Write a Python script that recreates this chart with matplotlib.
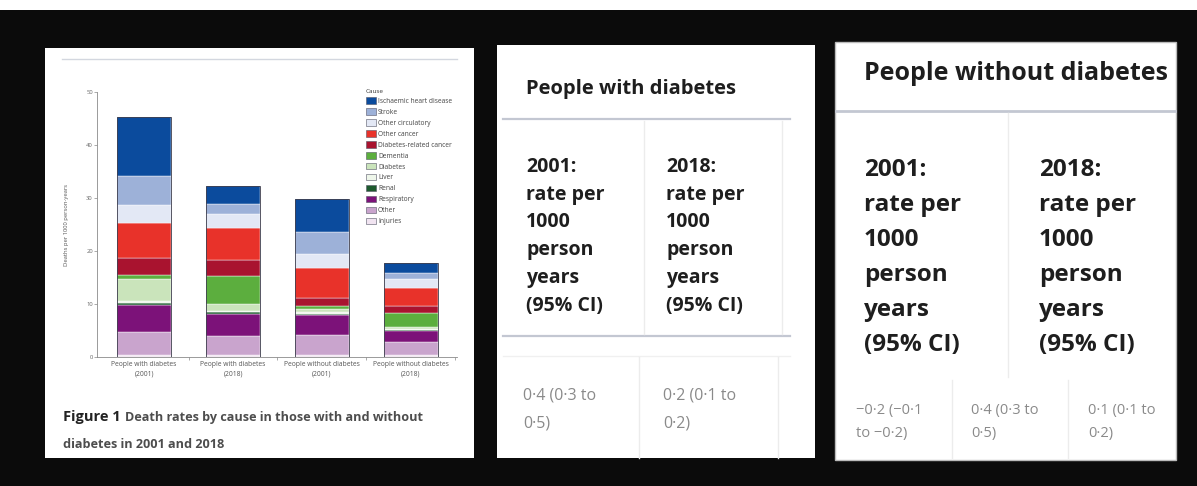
import numpy as np
import matplotlib
matplotlib.use('Agg')
import matplotlib.pyplot as plt
from matplotlib.patches import Rectangle, Patch

plt.rcParams['font.family'] = ['Open Sans', 'DejaVu Sans']

# ---- chart data (deaths per 1000 person-years), stacked bottom -> top
groups = ['People with diabetes\n(2001)', 'People with diabetes\n(2018)',
          'People without diabetes\n(2001)', 'People without diabetes\n(2018)']
causes = ['Injuries', 'Other', 'Respiratory', 'Renal', 'Liver', 'Diabetes', 'Dementia',
          'Diabetes-related cancer', 'Other cancer', 'Other circulatory', 'Stroke',
          'Ischaemic heart disease']
injuries      = [0.3, 0.3, 0.3, 0.3]
other         = [4.4, 3.7, 3.8, 2.5]
respiratory   = [5.2, 4.2, 3.9, 2.2]
renal         = [0.2, 0.2, 0.1, 0.1]
liver         = [0.4, 0.3, 0.3, 0.2]
diabetes      = [4.3, 1.3, 0.7, 0.3]
dementia      = [0.6, 5.3, 0.5, 2.7]
diab_cancer   = [3.2, 3.0, 1.6, 1.3]
other_cancer  = [6.7, 6.1, 5.6, 3.5]
other_circ    = [3.4, 2.6, 2.7, 1.7]
stroke        = [5.5, 1.9, 4.0, 1.0]
ihd           = [11.1, 3.4, 6.4, 1.9]
cause_colors = ['#f1e4f1', '#c9a4cd', '#7c1279', '#1d5a2e', '#eef6ea', '#cae4bb',
                '#5cae3e', '#a9132f', '#e8322a', '#e3e8f5', '#9db1d8', '#0b4b9d']

# ---- table data
mid_title = 'People with diabetes'
right_title = 'People without diabetes'
col_years = ['2001:', '2018:']
col_lines = ['rate per', '1000', 'person', 'years', '(95% CI)']
mid_values = [['0·4 (0·3 to', '0·5)'], ['0·2 (0·1 to', '0·2)']]
right_values = [['−0·2 (−0·1', 'to −0·2)'], ['0·4 (0·3 to', '0·5)'], ['0·1 (0·1 to', '0·2)']]

W, H = 1197, 486
fig = plt.figure(figsize=(W / 100, H / 100), dpi=100, facecolor='#0b0b0b')
bg = fig.add_axes([0, 0, 1, 1])
bg.set_xlim(0, W)
bg.set_ylim(H, 0)
bg.axis('off')

# page layout
bg.add_patch(Rectangle((0, 0), W, 10, color='white', lw=0))
bg.add_patch(Rectangle((45, 48), 429, 410, color='white', lw=0))
bg.add_patch(Rectangle((497, 45), 318, 413, color='white', lw=0))
bg.add_patch(Rectangle((835, 42), 341, 418, facecolor='white', edgecolor='#bbbbbb', lw=1))
bg.plot([62, 457], [59, 59], color='#d3d7df', lw=1)

# caption
bg.text(63, 417, 'Figure 1', fontsize=10.5, fontweight='bold', color='#222222', va='center')
bg.text(125, 417, 'Death rates by cause in those with and without', fontsize=9.1,
        fontweight='bold', color='#4d4d4d', va='center')
bg.text(63, 444, 'diabetes in 2001 and 2018', fontsize=9.1, fontweight='bold',
        color='#4d4d4d', va='center')

# middle table
bg.text(526, 89, mid_title, fontsize=14.5, fontweight='bold', color='#1e1e1e', va='center')
bg.plot([503, 790], [119, 119], color='#c3c7d2', lw=1.6)
bg.plot([503, 790], [336, 336], color='#c3c7d2', lw=1.6)
bg.plot([503, 790], [356, 356], color='#f0f0f0', lw=1)
for xv in [644, 782]:
    bg.plot([xv, xv], [121, 334], color='#ececec', lw=1)
for xv in [639, 778]:
    bg.plot([xv, xv], [357, 458], color='#ececec', lw=1)
for xc, yr in zip([526, 666], col_years):
    for k, s in enumerate([yr] + col_lines):
        bg.text(xc, 167 + 27.7 * k, s, fontsize=14, fontweight='bold', color='#1e1e1e', va='center')
for xc, vals in zip([523, 663], mid_values):
    for k, s in enumerate(vals):
        bg.text(xc, 395 + 28 * k, s, fontsize=11.5, color='#8a8a8a', va='center')

# right table
bg.text(864, 74, right_title, fontsize=18, fontweight='bold', color='#1e1e1e', va='center')
bg.plot([836, 1175], [111, 111], color='#c3c7d2', lw=2)
bg.plot([1008, 1008], [113, 377], color='#ececec', lw=1)
for xv in [952, 1068]:
    bg.plot([xv, xv], [380, 458], color='#ececec', lw=1)
for xc, yr in zip([864, 1039], col_years):
    for k, s in enumerate([yr] + col_lines):
        bg.text(xc, 170 + 35 * k, s, fontsize=17.5, fontweight='bold', color='#1e1e1e', va='center')
for xc, vals in zip([856, 971, 1088], right_values):
    for k, s in enumerate(vals):
        bg.text(xc, 410 + 23 * k, s, fontsize=10.5, color='#8a8a8a', va='center')

# ---- stacked bar chart
ax = fig.add_axes([97 / W, 1 - 357 / H, 360 / W, 265 / H])
ax.set_facecolor('none')
series = [injuries, other, respiratory, renal, liver, diabetes, dementia,
          diab_cancer, other_cancer, other_circ, stroke, ihd]
x = np.arange(len(groups))
bottom = np.zeros(len(groups))
for name, vals, col in zip(causes, series, cause_colors):
    ax.bar(x, vals, 0.61, bottom=bottom, color=col, edgecolor='white', linewidth=0.3, label=name)
    bottom += np.array(vals)
ax.bar(x, bottom, 0.61, fill=False, edgecolor='#3a3a4a', linewidth=0.6)

ax.set_xlim(-0.53, 3.52)
ax.set_ylim(0, 50)
ax.set_yticks([0, 10, 20, 30, 40, 50])
ax.set_xticks(x)
ax.set_xticklabels(groups, fontsize=4.9, color='#555555', linespacing=1.4)
ax.set_xticks([0.5, 1.5, 2.5, 3.5], minor=True)
ax.tick_params(axis='x', which='major', length=0, pad=3)
ax.tick_params(axis='x', which='minor', length=2, width=0.5, color='#888888')
ax.tick_params(axis='y', labelsize=4.2, labelcolor='#666666', length=2, width=0.5,
               color='#888888', pad=1)
ax.set_ylabel('Deaths per 1000 person-years', fontsize=4.2, color='#555555', labelpad=12)
for sp in ['top', 'right']:
    ax.spines[sp].set_visible(False)
for sp in ['left', 'bottom']:
    ax.spines[sp].set_color('#8a8a8a')
    ax.spines[sp].set_linewidth(0.6)

handles = [Patch(facecolor=c, edgecolor='#555566', linewidth=0.4, label=n)
           for n, c in zip(causes[::-1], cause_colors[::-1])]
leg = ax.legend(handles=handles, title='Cause', loc='upper left',
                bbox_to_anchor=(366 / W, 1 - 89 / H), bbox_transform=fig.transFigure,
                frameon=False, fontsize=4.8, title_fontsize=4.6, handlelength=1.5,
                handleheight=1.1, labelspacing=0.52, handletextpad=0.3,
                borderaxespad=0, borderpad=0, alignment='left')
for t in leg.get_texts():
    t.set_color('#444444')
leg.get_title().set_color('#333333')

fig.savefig('out.png', dpi=100, facecolor=fig.get_facecolor())
